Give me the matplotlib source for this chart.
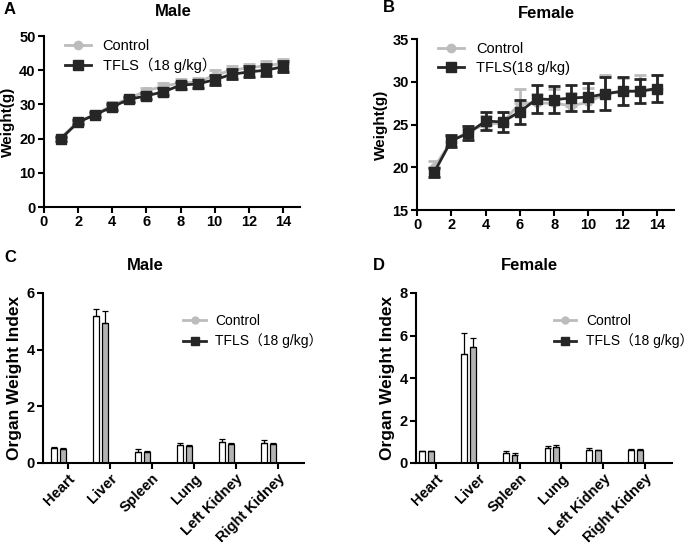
import numpy as np
import matplotlib
matplotlib.use("Agg")
import matplotlib.pyplot as plt
from matplotlib.lines import Line2D

plt.rcParams['font.family'] = ['Liberation Sans', 'Noto Sans CJK SC', 'DejaVu Sans']

# ---- datos: peso corporal por semana ----
days = np.arange(1, 15)

male_ctrl = [20.3, 25.0, 27.0, 29.8, 31.8, 34.0, 35.3, 36.3, 36.5, 38.5, 40.0, 40.7, 41.3, 42.0]
male_ctrl_err = [0.5, 0.6, 0.6, 0.8, 0.8, 0.9, 1.0, 1.2, 1.3, 1.6, 1.2, 1.2, 1.3, 1.3]
male_tfls = [20.0, 24.8, 27.0, 29.3, 31.5, 32.5, 33.7, 35.6, 36.0, 37.2, 38.8, 39.5, 40.0, 41.0]
male_tfls_err = [0.6, 0.6, 0.7, 0.8, 0.8, 0.9, 1.0, 1.0, 1.1, 1.5, 1.5, 1.6, 1.7, 1.6]

female_ctrl = [20.0, 23.0, 24.2, 25.0, 25.2, 27.5, 27.5, 27.5, 27.2, 27.6, 28.6, 28.8, 28.9, 29.1]
female_ctrl_err = [0.7, 0.6, 0.4, 1.0, 1.3, 1.7, 1.1, 1.6, 1.5, 1.7, 2.2, 1.6, 1.9, 1.7]
female_tfls = [19.4, 23.1, 24.0, 25.4, 25.3, 26.5, 28.0, 27.9, 28.1, 28.2, 28.6, 28.9, 28.9, 29.2]
female_tfls_err = [0.5, 0.7, 0.8, 1.1, 1.2, 1.4, 1.6, 1.6, 1.5, 1.6, 1.9, 1.6, 1.4, 1.6]

# ---- datos: indice de organos ----
organs = ["Heart", "Liver", "Spleen", "Lung", "Left Kidney", "Right Kidney"]
m_org_ctrl = [0.53, 5.20, 0.40, 0.65, 0.75, 0.72]
m_org_ctrl_err = [0.02, 0.25, 0.08, 0.05, 0.10, 0.10]
m_org_tfls = [0.50, 4.95, 0.39, 0.60, 0.68, 0.68]
m_org_tfls_err = [0.02, 0.40, 0.05, 0.04, 0.03, 0.04]

f_org_ctrl = [0.55, 5.15, 0.45, 0.72, 0.62, 0.62]
f_org_ctrl_err = [0.03, 0.95, 0.10, 0.10, 0.08, 0.03]
f_org_tfls = [0.55, 5.45, 0.38, 0.75, 0.60, 0.62]
f_org_tfls_err = [0.02, 0.45, 0.08, 0.10, 0.03, 0.03]

c_ctrl = "#bcbcbc"
c_tfls = "#262626"
W, H = 698, 545

fig = plt.figure(figsize=(6.98, 5.45), dpi=100)


def px_axes(left, top, right, bottom):
    return fig.add_axes([left / W, 1 - bottom / H, (right - left) / W, (bottom - top) / H])


def style(ax):
    for s in ["top", "right"]:
        ax.spines[s].set_visible(False)
    for s in ["left", "bottom"]:
        ax.spines[s].set_linewidth(1.5)
    ax.tick_params(width=1.5, length=4, labelsize=10.5, pad=2)
    for lab in ax.get_xticklabels() + ax.get_yticklabels():
        lab.set_fontweight("bold")


def legend_handles(ms_c, ms_t):
    return [Line2D([], [], color=c_ctrl, marker="o", ms=ms_c, lw=2),
            Line2D([], [], color=c_tfls, marker="s", ms=ms_t, lw=2)]


def line_panel(ax, ctrl, ctrl_err, tfls, tfls_err, ylim, yticks, tfls_label):
    ax.errorbar(days, ctrl, yerr=[np.zeros(len(ctrl)), ctrl_err], color=c_ctrl, marker="o",
                ms=5.5, lw=2, elinewidth=2, capsize=4, capthick=2, zorder=2)
    ax.errorbar(days, tfls, yerr=tfls_err, color=c_tfls, marker="s", ms=6.5, lw=2,
                elinewidth=2, capsize=4, capthick=2, zorder=3)
    ax.set_xlim(0, 15)
    ax.set_xticks(np.arange(0, 15, 2))
    ax.set_ylim(*ylim)
    ax.set_yticks(yticks)
    ax.set_ylabel("Weight(g)", fontsize=11, fontweight="bold", labelpad=3)
    style(ax)
    ax.legend(legend_handles(6, 6.5), ["Control", tfls_label], loc="upper left",
              bbox_to_anchor=(0.03, 1.06), frameon=False, fontsize=10.5,
              handlelength=1.8, labelspacing=0.35, handletextpad=0.8)


def bar_panel(ax, ctrl, ctrl_err, tfls, tfls_err, ylim, yticks, xlim):
    x = np.arange(len(organs))
    bw = 0.14
    ax.bar(x - 0.33, ctrl, bw, color="white", edgecolor="black", lw=0.9, zorder=2)
    ax.bar(x - 0.12, tfls, bw, color="#b3b3b3", edgecolor="black", lw=0.9, zorder=2)
    ax.errorbar(x - 0.33, ctrl, yerr=[np.zeros(len(ctrl)), ctrl_err], fmt="none",
                ecolor="black", elinewidth=0.9, capsize=2.5, capthick=0.9, zorder=3)
    ax.errorbar(x - 0.12, tfls, yerr=[np.zeros(len(tfls)), tfls_err], fmt="none",
                ecolor="black", elinewidth=0.9, capsize=2.5, capthick=0.9, zorder=3)
    ax.set_xlim(*xlim)
    ax.set_xticks(x)
    ax.set_xticklabels(organs, rotation=45, ha="right", rotation_mode="anchor")
    ax.set_ylim(*ylim)
    ax.set_yticks(yticks)
    ax.set_ylabel("Organ Weight Index", fontsize=12.5, fontweight="bold", labelpad=3)
    style(ax)
    ax.legend(legend_handles(5, 6), ["Control", "TFLS（18 g/kg）"], loc="upper left",
              bbox_to_anchor=(0.49, 0.95), frameon=False, fontsize=10,
              handlelength=1.6, labelspacing=0.4, handletextpad=0.7)


axA = px_axes(44, 36, 300, 207)
line_panel(axA, male_ctrl, male_ctrl_err, male_tfls, male_tfls_err,
           (0, 50), np.arange(0, 51, 10), "TFLS（18 g/kg）")

axB = px_axes(417, 39, 674, 210)
line_panel(axB, female_ctrl, female_ctrl_err, female_tfls, female_tfls_err,
           (15, 35), np.arange(15, 36, 5), "TFLS(18 g/kg)")

axC = px_axes(43, 293, 304, 463)
bar_panel(axC, m_org_ctrl, m_org_ctrl_err, m_org_tfls, m_org_tfls_err,
          (0, 6), [0, 2, 4, 6], (-0.6, 5.62))

axD = px_axes(416, 293, 672, 463)
bar_panel(axD, f_org_ctrl, f_org_ctrl_err, f_org_tfls, f_org_tfls_err,
          (0, 8), [0, 2, 4, 6, 8], (-0.48, 5.65))

# titulos y letras de panel
def ftext(x, y, s, size):
    fig.text(x / W, 1 - y / H, s, fontsize=size, fontweight="bold", ha="center", va="center")

ftext(10, 9, "A", 12)
ftext(173, 12, "Male", 12)
ftext(389, 8, "B", 12)
ftext(546, 14, "Female", 12)
ftext(10, 258, "C", 12)
ftext(145, 265, "Male", 12)
ftext(379, 266, "D", 12)
ftext(529, 266, "Female", 12)

fig.savefig("out.png", dpi=100)
